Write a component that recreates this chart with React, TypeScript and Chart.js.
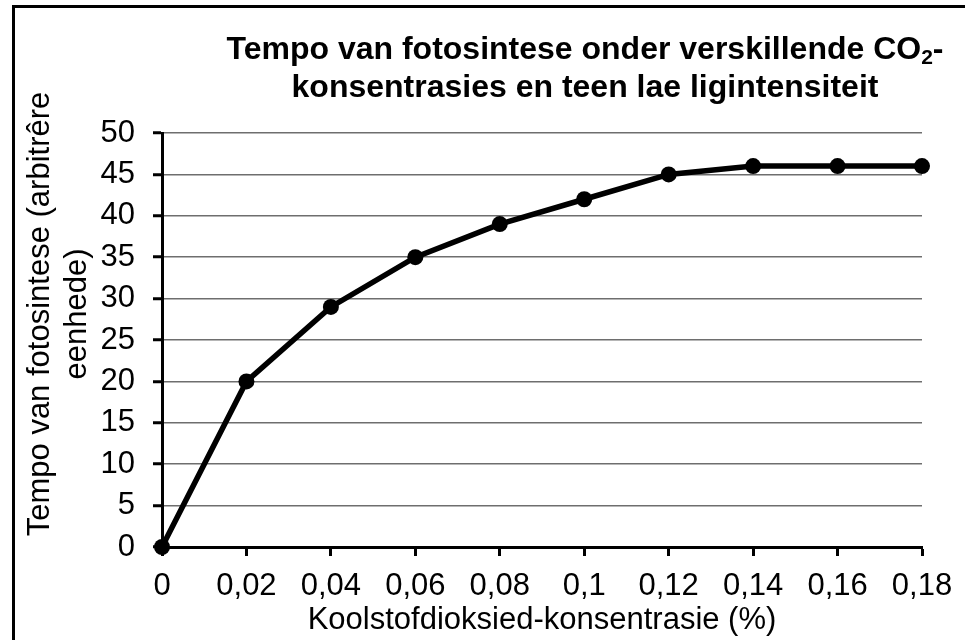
import React, { useEffect, useRef } from "react";
import { Chart, registerables } from "chart.js";

Chart.register(...registerables);

const xLabels = ["0", "0,02", "0,04", "0,06", "0,08", "0,1", "0,12", "0,14", "0,16", "0,18"];
const rateValues = [0, 20, 29, 35, 39, 42, 45, 46, 46, 46];
const titleLine1 = "Tempo van fotosintese onder verskillende CO";
const titleSub = "2";
const titleTail = "-";
const titleLine2 = "konsentrasies en teen lae ligintensiteit";
const yTitleLines = ["Tempo van fotosintese (arbitrêre", "eenhede)"];
const xTitle = "Koolstofdioksied-konsentrasie (%)";

const FONT = "'Liberation Sans', Arial, sans-serif";

const decorPlugin = {
  id: "decor",
  beforeDraw(chart: any) {
    const ctx = chart.ctx;
    ctx.save();
    ctx.fillStyle = "#ffffff";
    ctx.fillRect(0, 0, chart.width, chart.height);
    ctx.restore();
  },
  afterDraw(chart: any) {
    const ctx = chart.ctx;
    const area = chart.chartArea;
    ctx.save();
    // frame
    ctx.fillStyle = "#000";
    ctx.fillRect(12, 5, 3, chart.height);
    ctx.fillRect(12, 5, chart.width, 3);

    // title
    ctx.fillStyle = "#000";
    ctx.textBaseline = "middle";
    ctx.textAlign = "left";
    const tx = 585;
    ctx.font = `bold 32px ${FONT}`;
    const w1 = ctx.measureText(titleLine1).width;
    const wTail = ctx.measureText(titleTail).width;
    ctx.font = `bold 21px ${FONT}`;
    const wSub = ctx.measureText(titleSub).width;
    const total = w1 + wSub + wTail;
    let x = tx - total / 2;
    ctx.font = `bold 32px ${FONT}`;
    ctx.fillText(titleLine1, x, 50);
    x += w1;
    ctx.font = `bold 21px ${FONT}`;
    ctx.fillText(titleSub, x, 58);
    x += wSub;
    ctx.font = `bold 32px ${FONT}`;
    ctx.fillText(titleTail, x, 50);
    ctx.textAlign = "center";
    ctx.fillText(titleLine2, tx, 88);

    // x title
    ctx.font = `31px ${FONT}`;
    ctx.fillText(xTitle, (area.left + area.right) / 2, 620);

    // y title
    ctx.translate(0, 314);
    ctx.rotate(-Math.PI / 2);
    ctx.fillText(yTitleLines[0], 0, 40);
    ctx.fillText(yTitleLines[1], 0, 77);
    ctx.restore();
  },
};

export default function App() {
  const ref = useRef<HTMLCanvasElement>(null);
  useEffect(() => {
    if (!ref.current) return;
    const chart = new Chart(ref.current, {
      type: "line",
      data: {
        labels: xLabels,
        datasets: [
          {
            data: rateValues,
            borderColor: "#000",
            backgroundColor: "#000",
            borderWidth: 5.5,
            pointRadius: 8,
            pointBackgroundColor: "#000",
            pointBorderColor: "#000",
            pointBorderWidth: 0,
            tension: 0,
            clip: false,
          },
        ],
      },
      options: {
        responsive: false,
        animation: false,
        layout: { padding: { top: 133, right: 43, left: 0, bottom: 0 } },
        plugins: { legend: { display: false }, tooltip: { enabled: false }, title: { display: false } },
        scales: {
          x: {
            type: "category",
            offset: false,
            grid: { drawOnChartArea: false, drawTicks: true, tickLength: 9, tickColor: "#000", tickWidth: 3 },
            border: { color: "#000", width: 3 },
            ticks: { color: "#000", font: { family: FONT, size: 31 }, padding: 12, maxRotation: 0, autoSkip: false },
            afterFit(scale: any) {
              scale.height = 93;
            },
          },
          y: {
            min: 0,
            max: 50,
            ticks: { stepSize: 5, color: "#000", font: { family: FONT, size: 31 }, padding: 18 },
            grid: { color: "#6e6e6e", lineWidth: 1.5, tickLength: 9, tickColor: "#000", tickWidth: 3 },
            border: { color: "#000", width: 3 },
            afterFit(scale: any) {
              scale.width = 162;
            },
          },
        },
      },
      plugins: [decorPlugin],
    });
    return () => chart.destroy();
  }, []);
  return (
    <div style={{ position: "fixed", left: 0, top: 0, width: 965, height: 640 }}>
      <canvas ref={ref} width={965} height={640} style={{ width: 965, height: 640, display: "block" }} />
    </div>
  );
}
